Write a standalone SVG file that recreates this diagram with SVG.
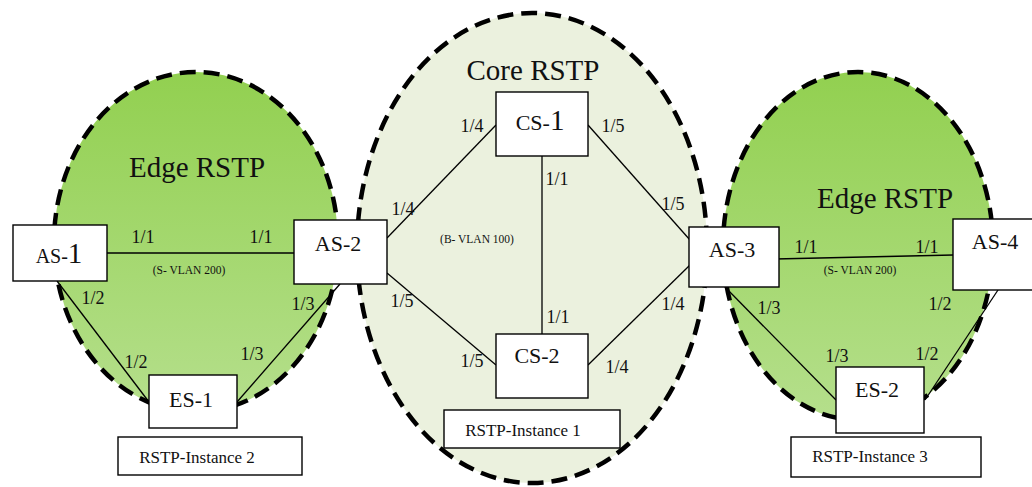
<svg xmlns="http://www.w3.org/2000/svg" width="1032" height="487" viewBox="0 0 1032 487" font-family="'Liberation Serif', 'Times New Roman', 'DejaVu Serif', serif">
<defs>
<linearGradient id="edgeGrad" x1="0" y1="0" x2="0" y2="1">
<stop offset="0" stop-color="#92d050"/>
<stop offset="1" stop-color="#b5df8c"/>
</linearGradient>
<style>
.zone{stroke:#000;stroke-width:4.5;stroke-dasharray:16 8}
.edge{fill:url(#edgeGrad)}
.core{fill:#ebf1de}
.box{fill:#fff;stroke:#000;stroke-width:1.4}
.ln{stroke:#000;stroke-width:1.3;fill:none}
text{font-family:'Liberation Serif','Times New Roman','DejaVu Serif',serif;fill:#111}
.title{font-size:29px;text-anchor:middle}
.node{font-size:22px;text-anchor:middle}
.big{font-size:29px}
.port{font-size:18px;text-anchor:middle}
.vlan{font-size:11.5px;text-anchor:middle}
.inst{font-size:17px;text-anchor:middle}
</style>
</defs>
<rect width="1032" height="487" fill="#fff"/>

<g id="zones">
<ellipse id="edge-left" class="zone edge" cx="196" cy="242" rx="142" ry="170"/>
<ellipse id="core" class="zone core" cx="532" cy="248" rx="175" ry="235"/>
<ellipse id="edge-right" class="zone edge" cx="858" cy="246" rx="135" ry="174"/>
<text class="title" x="197" y="177">Edge RSTP</text>
<text class="title" x="533" y="80">Core RSTP</text>
<text class="title" x="885" y="208">Edge RSTP</text>
</g>

<g id="connectors">
<line class="ln" x1="107" y1="253" x2="294" y2="253"/>
<line class="ln" x1="57" y1="281" x2="149" y2="402"/>
<line class="ln" x1="340" y1="284" x2="237" y2="402"/>
<line class="ln" x1="387" y1="238" x2="496" y2="125"/>
<line class="ln" x1="387" y1="273" x2="496" y2="365"/>
<line class="ln" x1="542" y1="156" x2="542" y2="334"/>
<line class="ln" x1="588" y1="125" x2="690" y2="240"/>
<line class="ln" x1="588" y1="365" x2="690" y2="265"/>
<line class="ln" x1="775" y1="259" x2="953" y2="255"/>
<line class="ln" x1="725" y1="287" x2="836" y2="400"/>
<line class="ln" x1="998" y1="290" x2="925" y2="400"/>
</g>

<g id="labels">
<text class="port" x="143" y="243">1/1</text>
<text class="port" x="261" y="243">1/1</text>
<text class="vlan" x="189" y="274">(S- VLAN 200)</text>
<text class="port" x="93" y="304">1/2</text>
<text class="port" x="136" y="368">1/2</text>
<text class="port" x="252" y="360">1/3</text>
<text class="port" x="303" y="310">1/3</text>

<text class="port" x="472" y="132">1/4</text>
<text class="port" x="613" y="132">1/5</text>
<text class="port" x="557" y="185">1/1</text>
<text class="port" x="403" y="215">1/4</text>
<text class="vlan" x="477" y="243">(B- VLAN 100)</text>
<text class="port" x="402" y="307">1/5</text>
<text class="port" x="558" y="323">1/1</text>
<text class="port" x="472" y="367">1/5</text>
<text class="port" x="617" y="373">1/4</text>
<text class="port" x="673" y="210">1/5</text>
<text class="port" x="673" y="310">1/4</text>

<text class="port" x="806" y="253">1/1</text>
<text class="port" x="927" y="253">1/1</text>
<text class="vlan" x="860" y="274">(S- VLAN 200)</text>
<text class="port" x="769" y="314">1/3</text>
<text class="port" x="940" y="310">1/2</text>
<text class="port" x="837" y="362">1/3</text>
<text class="port" x="927" y="360">1/2</text>
</g>

<g id="AS-1">
<rect class="box" x="13" y="225" width="94" height="56"/>
<text class="node" x="59" y="263"><tspan font-size="20">AS-</tspan><tspan class="big">1</tspan></text>
</g>
<g id="AS-2">
<rect class="box" x="294" y="220" width="93" height="64"/>
<text class="node" x="338" y="251">AS-2</text>
</g>
<g id="ES-1">
<rect class="box" x="149" y="375" width="88" height="53"/>
<text class="node" x="191" y="407">ES-1</text>
</g>
<g id="RSTP-Instance-2">
<rect class="box" x="118" y="437" width="184" height="38"/>
<text class="inst" x="197" y="463">RSTP-Instance 2</text>
</g>
<g id="CS-1">
<rect class="box" x="496" y="92" width="92" height="64"/>
<text class="node" x="540" y="130">CS-<tspan class="big">1</tspan></text>
</g>
<g id="CS-2">
<rect class="box" x="496" y="334" width="92" height="64"/>
<text class="node" x="537" y="363">CS-2</text>
</g>
<g id="RSTP-Instance-1">
<rect class="box" x="444" y="410" width="176" height="38"/>
<text class="inst" x="523" y="436">RSTP-Instance 1</text>
</g>
<g id="AS-3">
<rect class="box" x="689" y="227" width="90" height="60"/>
<text class="node" x="732" y="257">AS-3</text>
</g>
<g id="AS-4">
<rect class="box" x="953" y="219" width="90" height="71"/>
<text class="node" x="995" y="249">AS-4</text>
</g>
<g id="ES-2">
<rect class="box" x="836" y="367" width="88" height="66"/>
<text class="node" x="877" y="397">ES-2</text>
</g>
<g id="RSTP-Instance-3">
<rect class="box" x="791" y="437" width="190" height="40"/>
<text class="inst" x="870" y="462">RSTP-Instance 3</text>
</g>
</svg>
